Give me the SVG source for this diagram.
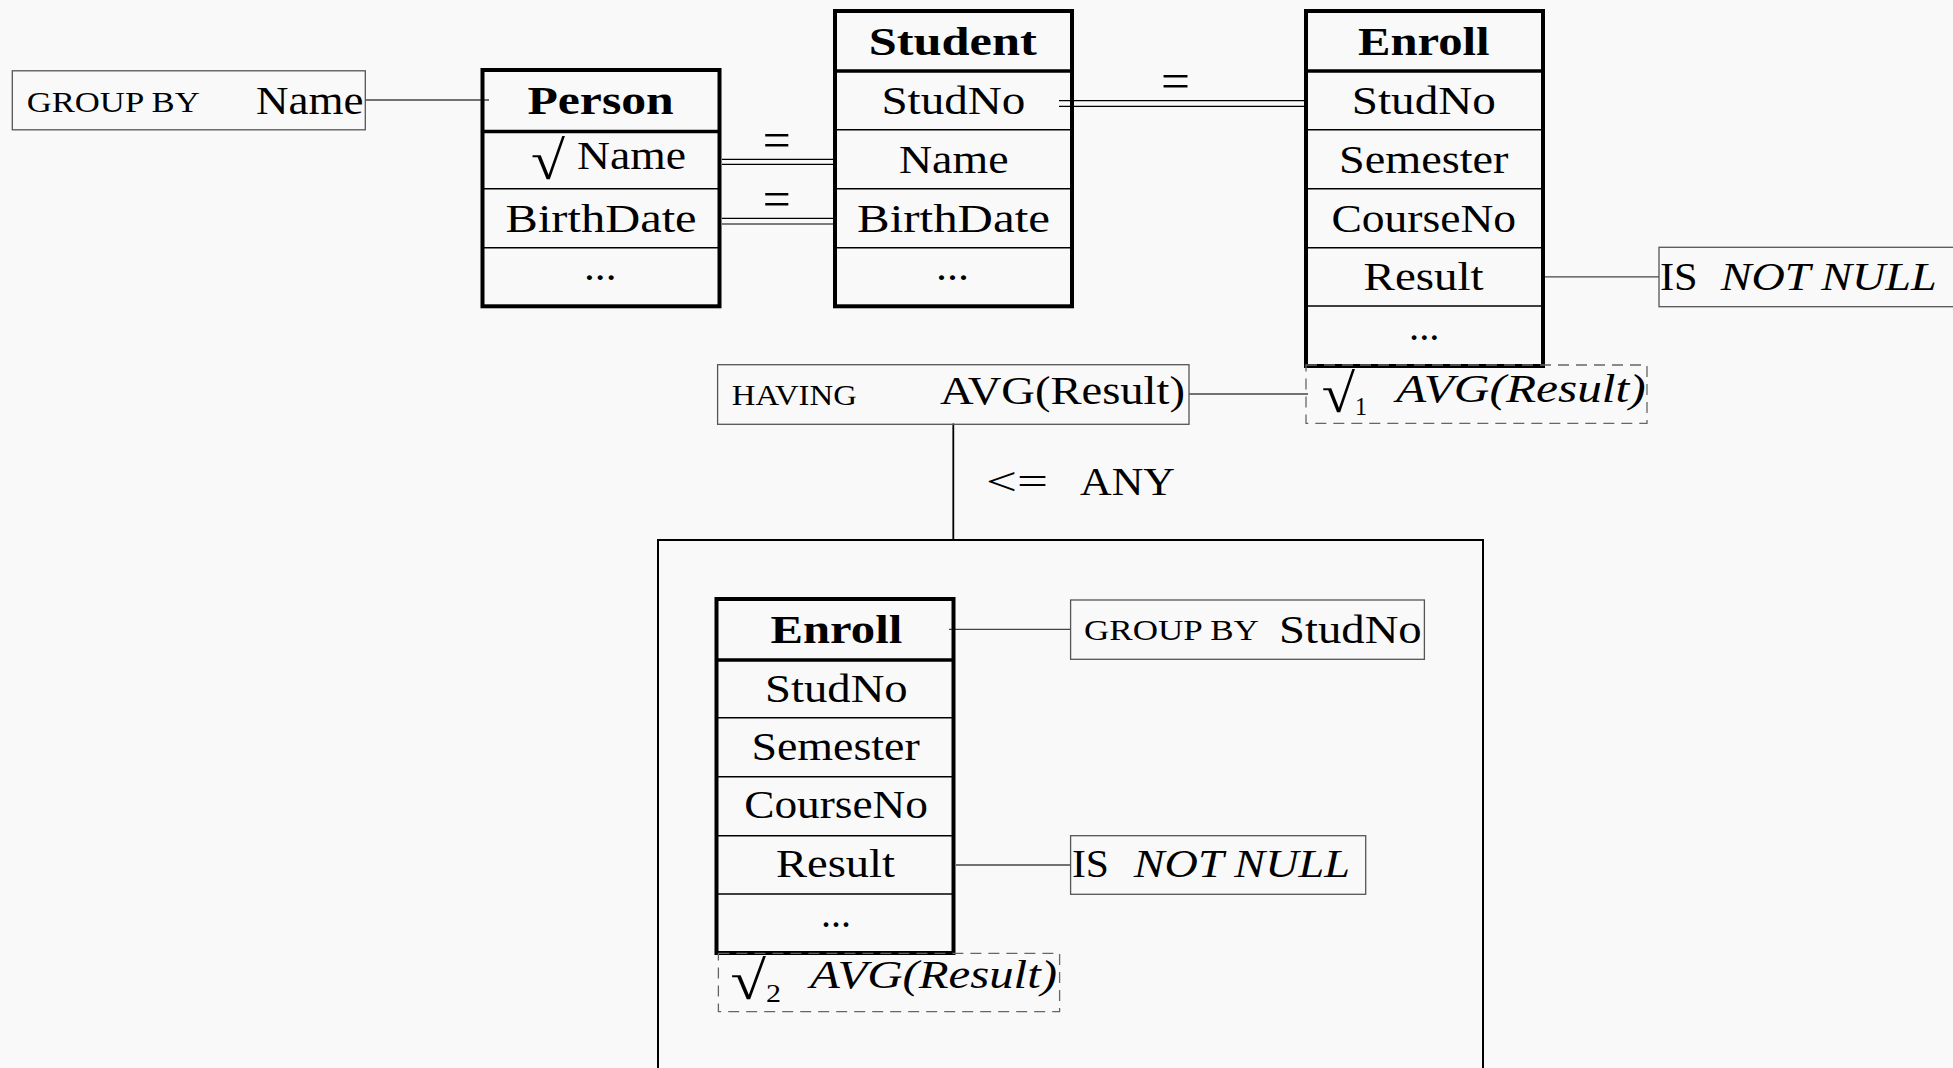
<svg xmlns="http://www.w3.org/2000/svg" width="1953" height="1068" viewBox="0 0 1953 1068">
  <style>
    text { font-family: "Liberation Serif", "Times New Roman", serif; fill: #000; }
    .t { font-size: 40px; }
    .b { font-size: 40px; font-weight: bold; }
    .i { font-size: 40px; font-style: italic; }
    .sc { font-size: 30px; }
    .sub { font-size: 25px; }
    .rad { font-size: 54px; }
    .eq { font-size: 50px; }
    .tbl { fill: none; stroke: #000; stroke-width: 4; }
    .hdr { stroke: #000; stroke-width: 3.5; }
    .row { stroke: #000; stroke-width: 1.6; }
    .note { fill: none; stroke: #555; stroke-width: 1.3; }
    .dash { fill: none; stroke: #666; stroke-width: 1.3; stroke-dasharray: 11 7; }
    .link { fill: none; stroke: #444; stroke-width: 1.3; }
    .dbl { fill: none; stroke: #000; stroke-width: 1.2; }
    .frame { fill: none; stroke: #000; stroke-width: 2; }
  </style>
  <rect width="1953" height="1068" fill="#f9f9f9"/>

  <!-- connectors -->
  <g id="connectors">
    <line class="link" x1="365" y1="100" x2="489" y2="100"/>
    <line class="dbl" x1="722" y1="159.3" x2="834" y2="159.3"/>
    <line class="dbl" x1="722" y1="164.3" x2="834" y2="164.3"/>
    <line class="dbl" x1="722" y1="218.3" x2="834" y2="218.3"/>
    <line class="dbl" x1="722" y1="224" x2="834" y2="224"/>
    <line class="dbl" x1="1059" y1="100.7" x2="1305" y2="100.7"/>
    <line class="dbl" x1="1059" y1="106.3" x2="1305" y2="106.3"/>
    <text class="eq" x="762.7" y="157" textLength="28" lengthAdjust="spacingAndGlyphs">=</text>
    <text class="eq" x="762.7" y="216" textLength="28" lengthAdjust="spacingAndGlyphs">=</text>
    <text class="eq" x="1161" y="98" textLength="29" lengthAdjust="spacingAndGlyphs">=</text>
    <line class="link" x1="1544" y1="276.8" x2="1659" y2="276.8"/>
    <line class="link" x1="1189" y1="394" x2="1308" y2="394"/>
    <line stroke="#000" stroke-width="1.8" x1="953.3" y1="423.5" x2="953.3" y2="540"/>
    <text class="t" x="986" y="495" textLength="62" lengthAdjust="spacingAndGlyphs">&lt;=</text>
    <text class="t" x="1080" y="495" textLength="95" lengthAdjust="spacingAndGlyphs">ANY</text>
    <line class="link" x1="949" y1="629.3" x2="1070.6" y2="629.3"/>
    <line class="link" x1="956" y1="865" x2="1070.6" y2="865"/>
  </g>

  <!-- GROUP BY Name -->
  <g id="groupby-name">
    <rect class="note" x="12.3" y="70.8" width="353" height="59"/>
    <text class="sc" x="26.7" y="111.7" textLength="173" lengthAdjust="spacingAndGlyphs">GROUP BY</text>
    <text class="t" x="256" y="114" textLength="107.5" lengthAdjust="spacingAndGlyphs">Name</text>
  </g>

  <!-- Person -->
  <g id="person">
    <rect class="tbl" x="482.5" y="70" width="237" height="236.3"/>
    <line class="hdr" x1="482.5" y1="131.5" x2="719.5" y2="131.5"/>
    <line class="row" x1="482.5" y1="188.7" x2="719.5" y2="188.7"/>
    <line class="row" x1="482.5" y1="247.7" x2="719.5" y2="247.7"/>
    <text class="b" x="527.4" y="114" textLength="146.4" lengthAdjust="spacingAndGlyphs">Person</text>
    <text class="rad" x="531" y="179" textLength="34" lengthAdjust="spacingAndGlyphs">√</text>
    <text class="t" x="577" y="169.3" textLength="109" lengthAdjust="spacingAndGlyphs">Name</text>
    <text class="t" x="505.6" y="231.7" textLength="191" lengthAdjust="spacingAndGlyphs">BirthDate</text>
    <text class="t" x="584" y="280" textLength="32.5" lengthAdjust="spacingAndGlyphs">...</text>
  </g>

  <!-- Student -->
  <g id="student">
    <rect class="tbl" x="835" y="11" width="237" height="295.3"/>
    <line class="hdr" x1="835" y1="71" x2="1072" y2="71"/>
    <line class="row" x1="835" y1="129.7" x2="1072" y2="129.7"/>
    <line class="row" x1="835" y1="188.7" x2="1072" y2="188.7"/>
    <line class="row" x1="835" y1="247.7" x2="1072" y2="247.7"/>
    <text class="b" x="868.7" y="55" textLength="168" lengthAdjust="spacingAndGlyphs">Student</text>
    <text class="t" x="881.4" y="114.3" textLength="144" lengthAdjust="spacingAndGlyphs">StudNo</text>
    <text class="t" x="899" y="172.7" textLength="109.5" lengthAdjust="spacingAndGlyphs">Name</text>
    <text class="t" x="857" y="231.7" textLength="193" lengthAdjust="spacingAndGlyphs">BirthDate</text>
    <text class="t" x="936" y="280" textLength="33" lengthAdjust="spacingAndGlyphs">...</text>
  </g>

  <!-- Enroll (outer query) -->
  <g id="enroll">
    <rect class="tbl" x="1306" y="11" width="237" height="355"/>
    <line class="hdr" x1="1306" y1="71" x2="1543" y2="71"/>
    <line class="row" x1="1306" y1="129.7" x2="1543" y2="129.7"/>
    <line class="row" x1="1306" y1="188.7" x2="1543" y2="188.7"/>
    <line class="row" x1="1306" y1="247.7" x2="1543" y2="247.7"/>
    <line class="row" x1="1306" y1="306" x2="1543" y2="306"/>
    <text class="b" x="1358" y="55" textLength="131.6" lengthAdjust="spacingAndGlyphs">Enroll</text>
    <text class="t" x="1351.8" y="114" textLength="144" lengthAdjust="spacingAndGlyphs">StudNo</text>
    <text class="t" x="1339" y="172.7" textLength="169.4" lengthAdjust="spacingAndGlyphs">Semester</text>
    <text class="t" x="1331.4" y="231.7" textLength="184.7" lengthAdjust="spacingAndGlyphs">CourseNo</text>
    <text class="t" x="1363.6" y="290" textLength="120" lengthAdjust="spacingAndGlyphs">Result</text>
    <text class="t" x="1409" y="339.5" textLength="30.5" lengthAdjust="spacingAndGlyphs">...</text>
  </g>

  <!-- IS NOT NULL (outer) -->
  <g id="notnull-outer">
    <rect class="note" x="1659" y="247.3" width="310" height="59.4"/>
    <text class="t" x="1660" y="290" textLength="37.7" lengthAdjust="spacingAndGlyphs">IS</text>
    <text class="i" x="1720.7" y="290" textLength="216" lengthAdjust="spacingAndGlyphs">NOT NULL</text>
  </g>

  <!-- sqrt1 AVG(Result) -->
  <g id="avg1">
    <rect class="dash" x="1306" y="365" width="341" height="58.3"/>
    <text class="rad" x="1321.7" y="412" textLength="33.3" lengthAdjust="spacingAndGlyphs">√</text>
    <text class="sub" x="1355" y="415" textLength="12" lengthAdjust="spacingAndGlyphs">1</text>
    <text class="i" x="1396" y="401.7" textLength="249.7" lengthAdjust="spacingAndGlyphs">AVG(Result)</text>
  </g>

  <!-- HAVING AVG(Result) -->
  <g id="having">
    <rect class="note" x="717.6" y="364.7" width="471.4" height="59.6"/>
    <text class="sc" x="731.8" y="405" textLength="125" lengthAdjust="spacingAndGlyphs">HAVING</text>
    <text class="t" x="940" y="404" textLength="245" lengthAdjust="spacingAndGlyphs">AVG(Result)</text>
  </g>

  <!-- subquery frame -->
  <g id="subquery">
    <rect class="frame" x="658" y="540" width="825" height="600"/>
  </g>

  <!-- Enroll (subquery) -->
  <g id="enroll-sub">
    <rect class="tbl" x="716.5" y="599" width="237" height="354"/>
    <line class="hdr" x1="716.5" y1="660" x2="953.5" y2="660"/>
    <line class="row" x1="716.5" y1="717.7" x2="953.5" y2="717.7"/>
    <line class="row" x1="716.5" y1="776.7" x2="953.5" y2="776.7"/>
    <line class="row" x1="716.5" y1="835.7" x2="953.5" y2="835.7"/>
    <line class="row" x1="716.5" y1="894" x2="953.5" y2="894"/>
    <text class="b" x="770.6" y="642.7" textLength="131.6" lengthAdjust="spacingAndGlyphs">Enroll</text>
    <text class="t" x="765" y="701.7" textLength="142.7" lengthAdjust="spacingAndGlyphs">StudNo</text>
    <text class="t" x="751.4" y="760" textLength="168.4" lengthAdjust="spacingAndGlyphs">Semester</text>
    <text class="t" x="744.2" y="818" textLength="183.8" lengthAdjust="spacingAndGlyphs">CourseNo</text>
    <text class="t" x="776" y="876.7" textLength="119" lengthAdjust="spacingAndGlyphs">Result</text>
    <text class="t" x="821" y="927" textLength="30" lengthAdjust="spacingAndGlyphs">...</text>
  </g>

  <!-- GROUP BY StudNo -->
  <g id="groupby-studno">
    <rect class="note" x="1070.6" y="600" width="353.8" height="59.3"/>
    <text class="sc" x="1084" y="640" textLength="174.8" lengthAdjust="spacingAndGlyphs">GROUP BY</text>
    <text class="t" x="1279" y="642.7" textLength="142.7" lengthAdjust="spacingAndGlyphs">StudNo</text>
  </g>

  <!-- IS NOT NULL (subquery) -->
  <g id="notnull-sub">
    <rect class="note" x="1070.6" y="835.7" width="295.1" height="58.6"/>
    <text class="t" x="1072" y="876.7" textLength="37" lengthAdjust="spacingAndGlyphs">IS</text>
    <text class="i" x="1133.7" y="876.7" textLength="216.3" lengthAdjust="spacingAndGlyphs">NOT NULL</text>
  </g>

  <!-- sqrt2 AVG(Result) -->
  <g id="avg2">
    <rect class="dash" x="718.4" y="953.3" width="341.2" height="58.4"/>
    <text class="rad" x="730.5" y="999" textLength="35.5" lengthAdjust="spacingAndGlyphs">√</text>
    <text class="sub" x="766" y="1001.7" textLength="15" lengthAdjust="spacingAndGlyphs">2</text>
    <text class="i" x="810" y="988.3" textLength="247" lengthAdjust="spacingAndGlyphs">AVG(Result)</text>
  </g>
</svg>
